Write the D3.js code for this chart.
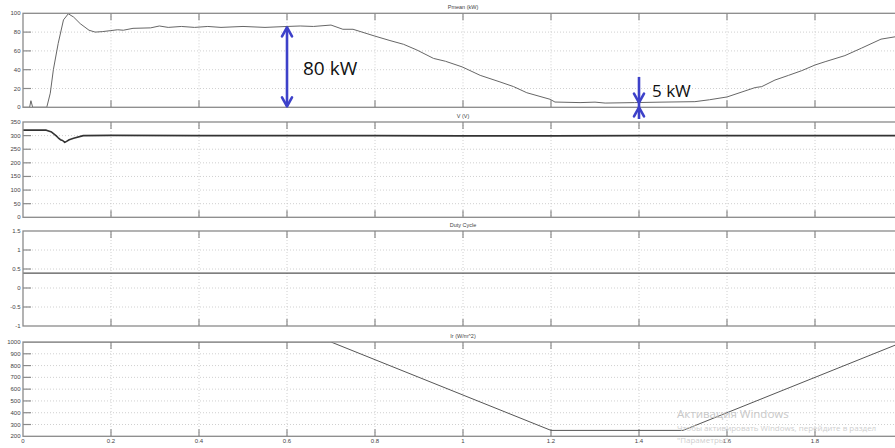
<!DOCTYPE html>
<html><head><meta charset="utf-8">
<script src="https://cdn.jsdelivr.net/npm/d3@7"></script>
<style>
html,body{margin:0;padding:0;background:#fff;overflow:hidden}
svg{display:block}
</style></head>
<body>
<svg id="c" width="895" height="448"></svg>
<script>
// ---- data ----
const xTicks = [0, 0.2, 0.4, 0.6, 0.8, 1, 1.2, 1.4, 1.6, 1.8];
const xTickLabels = ["0", "0.2", "0.4", "0.6", "0.8", "1", "1.2", "1.4", "1.6", "1.8"];

const pTime = [0, 0.015, 0.018, 0.022, 0.054, 0.062, 0.069, 0.08, 0.092, 0.103, 0.115, 0.13, 0.15, 0.164, 0.18, 0.198, 0.215, 0.228, 0.25, 0.29, 0.31, 0.33, 0.36, 0.39, 0.42, 0.45, 0.5, 0.55, 0.6, 0.63, 0.66, 0.7, 0.727, 0.75, 0.798, 0.834, 0.865, 0.895, 0.933, 0.96, 0.998, 1.039, 1.084, 1.115, 1.145, 1.198, 1.209, 1.266, 1.3, 1.323, 1.39, 1.45, 1.527, 1.56, 1.6, 1.664, 1.679, 1.709, 1.74, 1.77, 1.8, 1.823, 1.868, 1.906, 1.95, 1.982, 2.0];
const pValues = [0, 0, 7, 0, 0, 15, 40, 68, 93, 99.5, 96, 89, 82, 80, 80.5, 81.5, 82.5, 82, 84, 84.5, 86.5, 85, 86, 85, 86, 85, 86, 85, 86, 86.5, 86, 87.5, 83, 83, 76, 71, 67, 61, 52, 49, 43, 34, 27, 22, 15.5, 8.5, 5.6, 5, 5.5, 4.5, 5, 5.5, 6, 8, 11, 21, 22, 29, 34, 39, 45, 48.5, 55, 63, 72.5, 75, 77];

const vTime = [0, 0.053, 0.065, 0.075, 0.08, 0.085, 0.09, 0.095, 0.1, 0.105, 0.115, 0.137, 0.2, 0.4, 0.6, 0.8, 1.0, 1.2, 1.4, 1.6, 1.8, 2.0];
const vValues = [320, 320, 313, 300, 292, 285, 282, 275, 280, 285, 290, 300, 301, 300, 300, 300, 299, 299, 300, 300, 300, 300];

const dTime = [0, 2];
const dValues = [0.39, 0.39];

const irTime = [0, 0.7, 1.2, 1.5, 2.0];
const irValues = [1000, 1000, 250, 250, 1000];

const panels = [
  {title: "Pmean (kW)", t: pTime, v: pValues, domain: [0, 100], ticks: [0, 20, 40, 60, 80, 100], top: 13.3, bottom: 107.3, lw: 1, col: "#666"},
  {title: "V (V)", t: vTime, v: vValues, domain: [0, 350], ticks: [0, 50, 100, 150, 200, 250, 300, 350], top: 122, bottom: 217.3, lw: 1.6, col: "#333"},
  {title: "Duty Cycle", t: dTime, v: dValues, domain: [-1, 1.5], ticks: [-1, -0.5, 0, 0.5, 1, 1.5], top: 231, bottom: 326, lw: 1.2, col: "#555"},
  {title: "Ir (W/m^2)", t: irTime, v: irValues, domain: [200, 1000], ticks: [200, 300, 400, 500, 600, 700, 800, 900, 1000], top: 342, bottom: 436.3, lw: 1, col: "#555"}
];

// ---- drawing ----
const svg = d3.select("#c");
const x = d3.scaleLinear().domain([0, 2]).range([23, 903]);
const axisCol = "#8a8a8a";

panels.forEach((p, i) => {
  const y = d3.scaleLinear().domain(p.domain).range([p.bottom, p.top]);
  const g = svg.append("g");
  const cid = "clip" + i;
  svg.append("clipPath").attr("id", cid).append("rect")
    .attr("x", x(0)).attr("y", p.top).attr("width", x(2) - x(0)).attr("height", p.bottom - p.top);

  // grid
  g.selectAll(".gx").data(xTicks.slice(1)).join("line")
    .attr("x1", d => x(d)).attr("x2", d => x(d)).attr("y1", p.top).attr("y2", p.bottom)
    .attr("stroke", "#c4c4c4").attr("stroke-width", 0.8).attr("stroke-dasharray", "1,2");
  g.selectAll(".gy").data(p.ticks.slice(1, -1)).join("line")
    .attr("x1", x(0)).attr("x2", x(2)).attr("y1", d => y(d)).attr("y2", d => y(d))
    .attr("stroke", "#c4c4c4").attr("stroke-width", 0.8).attr("stroke-dasharray", "1,2");

  // inner ticks
  g.selectAll(".tx").data(xTicks.slice(1)).join("path")
    .attr("d", d => `M${x(d)},${p.top}v7M${x(d)},${p.bottom}v-7`)
    .attr("stroke", axisCol).attr("stroke-width", 1.2);
  g.selectAll(".ty").data(p.ticks.slice(1, -1)).join("path")
    .attr("d", d => `M${x(0)},${y(d)}h8`)
    .attr("stroke", axisCol).attr("stroke-width", 1.2);

  // y tick labels
  g.selectAll(".ly").data(p.ticks).join("text")
    .attr("x", 20.5).attr("y", d => y(d) + 2)
    .attr("text-anchor", "end").attr("font-family", "Liberation Sans, Arial, sans-serif")
    .attr("font-size", 6).attr("fill", "#444").text(d => d);

  // line
  const line = d3.line().x((d, k) => x(p.t[k])).y(d => y(d));
  g.append("path").datum(p.v).attr("d", line)
    .attr("clip-path", `url(#${cid})`)
    .attr("fill", "none").attr("stroke", p.col).attr("stroke-width", p.lw).attr("stroke-linejoin", "round");

  // frame
  g.append("rect").attr("x", x(0)).attr("y", p.top).attr("width", x(2) - x(0)).attr("height", p.bottom - p.top)
    .attr("fill", "none").attr("stroke", axisCol).attr("stroke-width", 1.3);

  // title
  svg.append("text").attr("x", x(1)).attr("y", p.top - 4.5).attr("text-anchor", "middle")
    .attr("font-family", "Liberation Sans, Arial, sans-serif").attr("font-size", 5.5).attr("fill", "#444")
    .text(p.title);
});

// x tick labels (bottom panel)
svg.selectAll(".lx").data(xTicks).join("text")
  .attr("x", d => x(d)).attr("y", 443).attr("text-anchor", "middle")
  .attr("font-family", "Liberation Sans, Arial, sans-serif").attr("font-size", 6).attr("fill", "#444")
  .text((d, i) => xTickLabels[i]);

// annotations
const blue = "#3d41c9";
const yP = d3.scaleLinear().domain([0, 100]).range([107.3, 13.3]);
function arrowHead(xc, yc, dir) {
  // dir = -1 pointing up, +1 pointing down
  svg.append("path").attr("d", `M${xc - 5},${yc - dir * 9}L${xc},${yc}L${xc + 5},${yc - dir * 9}`)
    .attr("fill", "none").attr("stroke", blue).attr("stroke-width", 2.6).attr("stroke-linecap", "round").attr("stroke-linejoin", "round");
}
const ax1 = x(0.6);
svg.append("line").attr("x1", ax1).attr("x2", ax1).attr("y1", yP(86) + 1).attr("y2", yP(0) - 1)
  .attr("stroke", blue).attr("stroke-width", 2.6);
arrowHead(ax1, yP(86) + 1, -1);
arrowHead(ax1, yP(0) - 1, 1);
svg.append("text").attr("x", 303).attr("y", 75).attr("font-family", "Open Sans, sans-serif")
  .attr("font-size", 19).attr("fill", "#111").text("80 kW");

const ax2 = x(1.4);
svg.append("line").attr("x1", ax2).attr("x2", ax2).attr("y1", 77).attr("y2", yP(5))
  .attr("stroke", blue).attr("stroke-width", 2.6);
arrowHead(ax2, yP(5), 1);
svg.append("line").attr("x1", ax2).attr("x2", ax2).attr("y1", yP(5)).attr("y2", 119)
  .attr("stroke", blue).attr("stroke-width", 2.6);
arrowHead(ax2, yP(0), -1);
svg.append("text").attr("x", 652).attr("y", 97).attr("font-family", "Open Sans, sans-serif")
  .attr("font-size", 17).attr("fill", "#111").text("5 kW");

// watermark
svg.append("text").attr("x", 677).attr("y", 418).attr("font-family", "Open Sans, sans-serif")
  .attr("font-size", 11.5).attr("fill", "#c8c8c8").text("Активация Windows");
svg.append("text").attr("x", 677).attr("y", 431).attr("font-family", "Open Sans, sans-serif")
  .attr("font-size", 8).attr("fill", "#cfcfcf").text("Чтобы активировать Windows, перейдите в раздел");
svg.append("text").attr("x", 677).attr("y", 443).attr("font-family", "Open Sans, sans-serif")
  .attr("font-size", 8).attr("fill", "#cfcfcf").text("\"Параметры\".");
</script>
</body></html>
